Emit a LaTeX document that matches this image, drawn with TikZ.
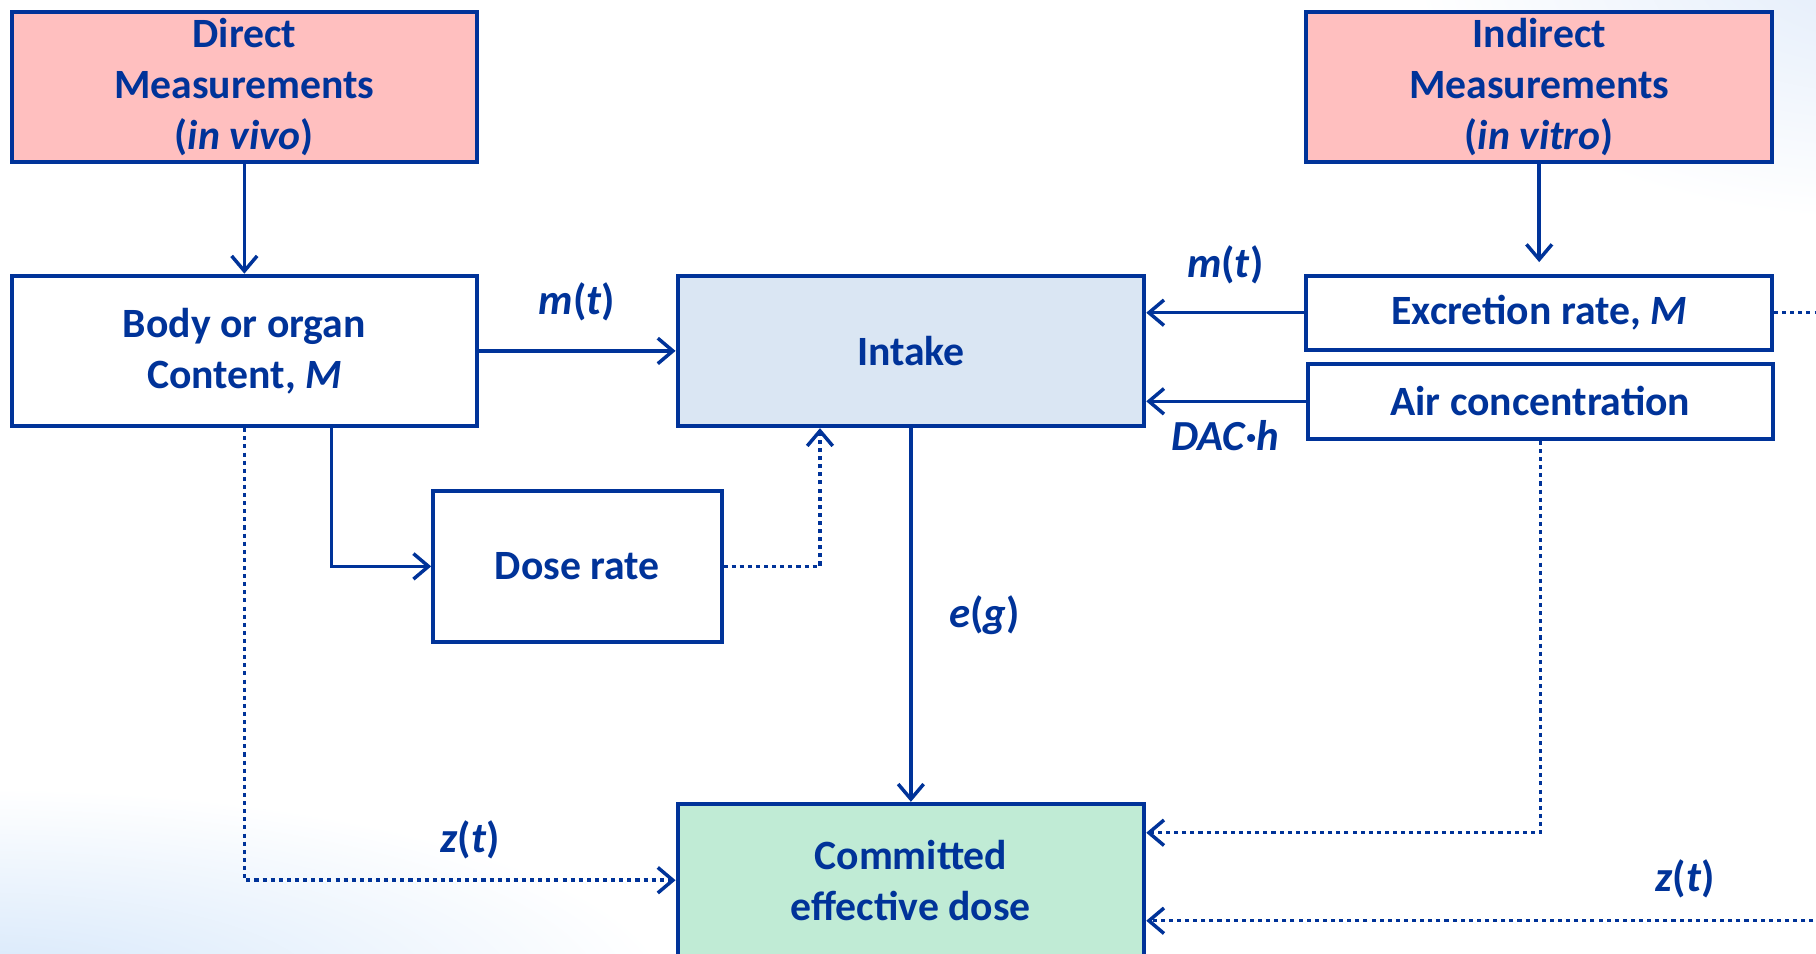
\documentclass[tikz,border=0pt]{standalone}
\usepackage{fontspec}
\setmainfont{Carlito}
\usetikzlibrary{arrows.meta}
\definecolor{navy}{RGB}{0,51,153}
\definecolor{pinkfill}{RGB}{255,191,191}
\definecolor{intakefill}{RGB}{218,230,243}
\definecolor{cedfill}{RGB}{192,235,213}
\definecolor{bgblue}{RGB}{212,230,250}
\definecolor{bgblue2}{RGB}{226,236,250}
\tikzset{
  box/.style={draw=navy, line width=3.4pt, inner sep=0pt, align=center, text=navy,
    font=\fontsize{36}{44}\selectfont\bfseries, minimum width=402pt, minimum height=130pt},
  arr/.style={draw=navy, line width=3pt, -{Straight Barb[length=13pt,width=22pt,line width=3pt]}},
  dotarr/.style={arr, dash pattern=on 3.5pt off 3.5pt},
  lbl/.style={text=navy, font=\fontsize{37}{44}\selectfont\bfseries, inner sep=0pt}
}
\begin{document}
\begin{tikzpicture}[x=1pt,y=-1pt]
\useasboundingbox (0,0) rectangle (1568,823);
\begin{scope}
  \clip (0,0) rectangle (1568,823);
  \shade[inner color=bgblue, outer color=white] (-20,860) ellipse (600pt and 180pt);
  \shade[inner color=bgblue2, outer color=white] (1620,-30) ellipse (400pt and 220pt);
\end{scope}
% nodes
\node[box, fill=pinkfill] (direct) at (211,75) {Direct\\Measurements\\(\textit{in vivo})};
\node[box, fill=white] (body) at (211,303) {Body or organ\\Content, \textit{M}};
\node[box, fill=intakefill, minimum width=403pt] (intake) at (786.5,303) {Intake};
\node[box, fill=pinkfill] (indirect) at (1329,75) {Indirect\\Measurements\\(\textit{in vitro})};
\node[box, fill=white, minimum height=64pt] (excr) at (1329,270) {Excretion rate, \textit{M}};
\node[box, fill=white, minimum height=65pt] (air) at (1330,346.5) {Air concentration};
\node[box, fill=white, minimum width=249pt] (dose) at (498.5,489) {Dose rate};
\node[box, fill=cedfill, minimum width=403pt, minimum height=132pt] (ced) at (786.5,760) {Committed\\effective dose};
% connectors
\draw[arr] (direct) -- (body);
\draw[arr, shorten >=10pt] (indirect.south) -- (excr.north);
\draw[arr] (body.east) -- (intake.west);
\draw[arr] (excr.west) -- (intake.east |- excr.west);
\draw[arr] (air.west) -- (intake.east |- air.west);
\draw[arr] ([xshift=75pt]body.south) |- (dose.west);
\draw[dotarr] (dose.east) -| ([xshift=-78.5pt]intake.south);
\draw[arr] (intake) -- (ced);
\draw[dotarr] (body.south) |- (ced.west);
\draw[dotarr] (air.south) |- ([yshift=41pt]ced.east);
\draw[dotarr] (excr.east) -- ++(80,0) |- ([yshift=-35pt]ced.east);
% labels
\node[lbl] (l1) at (498,261) {\textit{m}(\textit{t})};
\node[lbl] (l2) at (1058,229) {\textit{m}(\textit{t})};
\node[lbl] (l3) at (1058,376) {\textit{DAC·h}};
\node[lbl] (l4) at (850,531) {\textit{e}(\textit{g})};
\node[lbl] (l5) at (406,725) {\textit{z}(\textit{t})};
\node[lbl] (l6) at (1455,759) {\textit{z}(\textit{t})};
\end{tikzpicture}
\end{document}
